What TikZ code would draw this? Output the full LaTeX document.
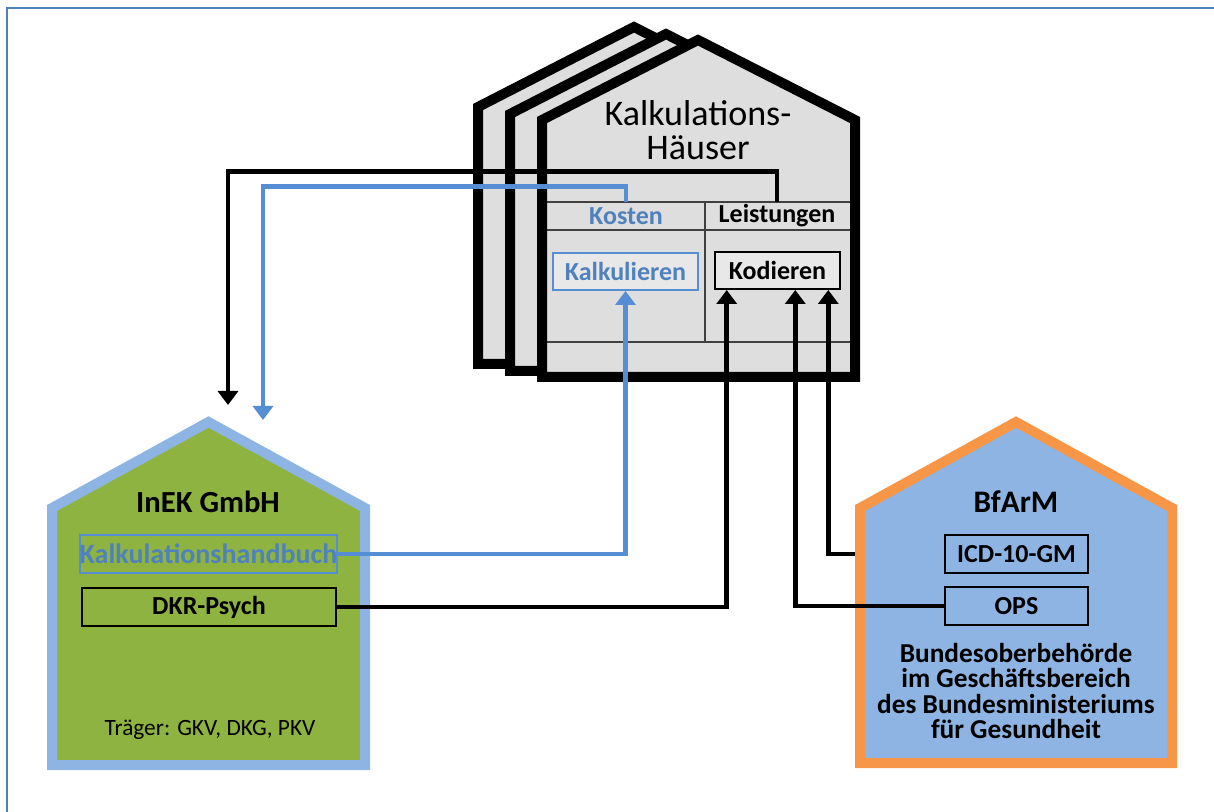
\documentclass[tikz,border=0pt]{standalone}
\usepackage{fontspec}
\setmainfont{Carlito}
\usepackage{xcolor}
\usetikzlibrary{arrows.meta,calc}
\definecolor{frameblue}{RGB}{79,129,189}
\definecolor{costblue}{RGB}{79,129,189}
\definecolor{linkblue}{RGB}{85,142,213}
\definecolor{inekgreen}{RGB}{143,179,64}
\definecolor{inekrim}{RGB}{142,180,227}
\definecolor{bfarmfill}{RGB}{142,180,227}
\definecolor{bfarmrim}{RGB}{247,150,70}
\definecolor{hausgray}{RGB}{222,222,222}
\tikzset{
	haus/.style={draw=black, line width=7.5pt, fill=hausgray},
	cell/.style={font=\bfseries\fontsize{19.5}{19.5}\selectfont, inner sep=0pt, minimum height=21pt},
	kbox/.style={draw, line width=1.5pt, inner sep=0pt, font=\bfseries\fontsize{19.5}{19.5}\selectfont},
	flow/.style={line width=3.6pt, -{Triangle[width=15pt,length=10.5pt]}}
}

\begin{document}
\begin{tikzpicture}[x=0.75pt,y=-0.75pt]
		\useasboundingbox (0,0) rectangle (1214,812);
		% Draw the frame
		\draw[frameblue, line width=1.5pt] (7,812) -- (7,8) -- (1214,8);
		% Draw the calculation houses
		\foreach \dx/\dy in {-64/-13,-32/-6,0/0}
			\draw[haus, shift={(\dx,\dy)}] (542,377) -- (542,120) -- (698,40) -- (855,120) -- (855,377) -- cycle;
		\draw[black!75, line width=1pt] (547,202) -- (850,202) (547,230) -- (850,230)
			(705,202) -- (705,342) (547,342) -- (850,342);
		\node[font=\fontsize{27}{25.5}\selectfont, align=center] (titel) at (698,130) {Kalkulations-\\Häuser};
		\node[cell, text=costblue] (kosten) at (626,216) {Kosten};
		\node[cell] (leistungen) at (777,216) {Leistungen};
		\node[kbox, draw=linkblue, text=costblue, fill=black!9, minimum width=108.75pt, minimum height=27.75pt] (kalk) at (625.5,271.5) {Kalkulieren};
		\node[kbox, fill=black!9, minimum width=93.75pt, minimum height=27.75pt] (kod) at (777.5,270.5) {Kodieren};
		% Draw the InEK house
		\draw[line width=7.5pt, draw=inekrim, fill=inekgreen] (52,765) -- (52,508) -- (208.5,422) -- (365,508) -- (365,765) -- cycle;
		\node[font=\bfseries\fontsize{23}{23}\selectfont] (inek) at (208,502) {InEK GmbH};
		\node[kbox, draw=linkblue, text=costblue, font=\bfseries\fontsize{21}{21}\selectfont, minimum width=190pt, minimum height=28.5pt] (handbuch) at (208.5,554) {Kalkulationshandbuch};
		\node[kbox, minimum width=190.5pt, minimum height=29pt] (dkr) at (209,607) {DKR-Psych};
		\node[font=\fontsize{17.5}{17.5}\selectfont] (traeger) at (210,730) {Träger: GKV, DKG, PKV};
		% Draw the BfArM house
		\draw[line width=7.5pt, draw=bfarmrim, fill=bfarmfill] (860,763) -- (860,508) -- (1016,422) -- (1172,508) -- (1172,763) -- cycle;
		\node[font=\bfseries\fontsize{23.5}{23.5}\selectfont] (bfarm) at (1016,502) {BfArM};
		\node[kbox, minimum width=107pt, minimum height=28.5pt] (icd) at (1016.5,554) {ICD-10-GM};
		\node[kbox, minimum width=107pt, minimum height=28pt] (ops) at (1016.5,606) {OPS};
		\node[font=\bfseries\fontsize{20.5}{19}\selectfont, align=center] (behoerde) at (1016,691) {Bundesoberbehörde\\im Geschäftsbereich\\des Bundesministeriums\\für Gesundheit};
		% Draw the connectors
		\coordinate (inekA) at (228,405);
		\coordinate (inekB) at (263,420);
		\coordinate (icdport) at (855,554);
		\draw[flow] (leistungen.north) -- ++(0,-30) -| (inekA);
		\draw[flow, linkblue] (kosten.north) -- ++(0,-15) -| (inekB);
		\draw[flow, linkblue] (handbuch.east) -| (kalk.south);
		\draw[flow] (dkr.east) -| ($(kod.south west)!0.1!(kod.south east)$);
		\draw[flow] (ops.west) -| ($(kod.south west)!0.64!(kod.south east)$);
		\draw[flow] (icdport) -| ($(kod.south west)!0.9!(kod.south east)$);
	\end{tikzpicture}
\end{document}
